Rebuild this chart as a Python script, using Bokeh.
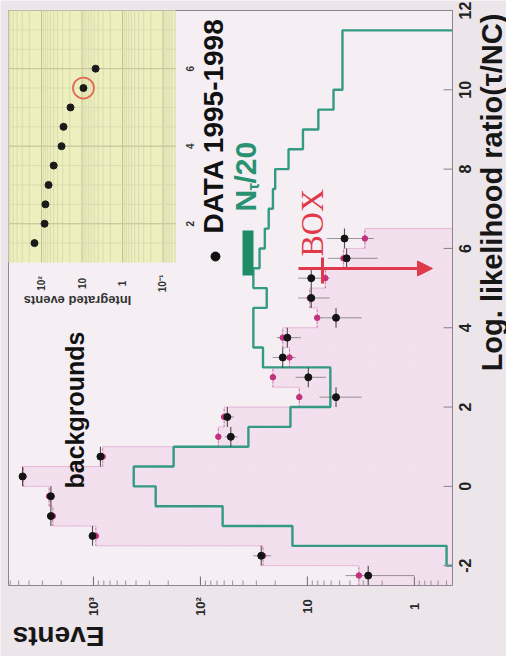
import numpy as np
from math import pi, log10
from bokeh.plotting import figure
from bokeh.models import Range1d, LogScale, Label, Arrow, NormalHead
from bokeh.core.properties import value
from bokeh.embed import file_html
from bokeh.resources import INLINE

# ---------------- data ----------------
bin_centers = [-2.25, -1.75, -1.25, -0.75, -0.25, 0.25, 0.75, 1.25, 1.75,
               2.25, 2.75, 3.25, 3.75, 4.25, 4.75, 5.25, 5.75, 6.25]
data_events = [2.7, 27, 1020, 2500, 2500, 4600, 860, 52, 56,
               5.4, 9.8, 17, 15.4, 5.4, 9.2, 9.2, 4.3, 4.5]
data_err = [1.7, 5.2, 32, 50, 50, 68, 29, 7.2, 7.5,
            2.3, 3.1, 4.1, 3.9, 2.3, 3.0, 3.0, 2.1, 2.1]
bkg_events = [3.3, 26, 950, 2400, 2600, 4500, 820, 68, 60,
              11.9, 21, 14.7, 17, 8.1, 9.5, 6.8, 4.6, 2.9]

ntau_bin_low = [-2.0, -1.5, -1.0, -0.5, 0.0, 0.5, 1.0, 1.5, 2.0, 2.5, 3.0, 3.5, 4.0, 4.5,
                5.0, 5.5, 6.0, 6.5, 7.0, 7.5, 8.0, 8.5, 9.0, 9.5, 10.0, 10.5, 11.0]
ntau_over_20 = [0.5, 13.8, 62, 262, 420, 178, 35.6, 14.4, 6.1, 6.1, 26, 32, 32, 24,
                32, 28, 25, 23, 21, 20, 15, 11, 7.9, 5.7, 4.7, 4.7, 4.7]

inset_cut = [1.5, 2.0, 2.5, 3.0, 3.5, 4.0, 4.5, 5.0, 5.5, 6.0]
inset_integrated = [149, 84, 80, 67, 50, 32, 28.6, 19.2, 9.2, 4.6]
inset_circled_index = 8

ratio_ticks = [-2, 0, 2, 4, 6, 8, 10, 12]
ratio_tick_labels = ["-2", "0", "2", "4", "6", "8", "10", "12"]
event_ticks = [1, 10, 100, 1000]
event_tick_labels = ["1", "10", "10\u00b2", "10\u00b3"]
inset_event_ticks = [100, 10, 1, 0.1]
inset_event_labels = ["10\u00b2", "10", "1", "10\u207b\u00b9"]
inset_cut_ticks = [2, 4, 6]

x_title = "Log. likelihood ratio(\u03c4/NC)"
y_title = "Events"

# ---------------- layout ----------------
W, H = 506, 656
FL, FR, FT, FB = 8, 452, 10, 585          # drawn plot box (px)
EVENTS_RANGE = (6225.0, 0.44)             # at box left -> box right (log, reversed)
RATIO_RANGE = (-2.5, 12.0)                # at box bottom -> box top
IL, IR, IT, IB = 8, 175, 10, 262          # inset box (px)
INSET_E = (653.0, 0.049)                  # inset log axis, left -> right
INSET_V = (1.0, 7.5)                      # inset cut axis, bottom -> top
BIN_W = 0.5
BASE = EVENTS_RANGE[1]
MAJOR_TICK, MINOR_TICK = 9, 5
FONT = "Liberation Sans"
TEAL = "#349a84"
RED = "#e0394b"


def lerp_log(a, b, f):
    return 10 ** (log10(a) + f * (log10(b) - log10(a)))


def ev(px):
    return lerp_log(EVENTS_RANGE[0], EVENTS_RANGE[1], (px - FL) / (FR - FL))


def rt(py):
    return RATIO_RANGE[0] + (FB - py) / (FB - FT) * (RATIO_RANGE[1] - RATIO_RANGE[0])


def iev(px):
    return lerp_log(INSET_E[0], INSET_E[1], (px - IL) / (IR - IL))


def ivt(py):
    return INSET_V[0] + (IB - py) / (IB - IT) * (INSET_V[1] - INSET_V[0])


def step_path(lo, vals, width, base):
    lo = np.asarray(lo, float)
    vals = np.asarray(vals, float)
    hi = lo + width
    xs = np.concatenate([[base], np.repeat(vals, 2), [base]])
    ys = np.concatenate([[lo[0]], np.column_stack([lo, hi]).ravel(), [hi[-1]]])
    return xs, ys


# the frame fills the page; the plot box, its ticks and titles are drawn in data space
p = figure(width=W, height=H, x_axis_type="log", x_axis_location=None, y_axis_location=None,
           x_range=Range1d(ev(0), ev(W)), y_range=Range1d(rt(H), rt(0)),
           output_backend="svg", toolbar_location=None, min_border=0,
           background_fill_color="#ece5ea", border_fill_color="#ece5ea")
p.grid.visible = False
p.outline_line_color = None
p.extra_x_ranges = {"ix": Range1d(iev(0), iev(W))}
p.extra_x_scales = {"ix": LogScale()}
p.extra_y_ranges = {"iy": Range1d(ivt(H), ivt(0))}

# plot box
p.quad(left=EVENTS_RANGE[0], right=EVENTS_RANGE[1], bottom=RATIO_RANGE[0], top=RATIO_RANGE[1],
       fill_color="#f5eff4", line_color=None)

# ---------------- backgrounds (hatched) ----------------
centers = np.array(bin_centers)
bkg = np.array(bkg_events)
p.hbar(y=centers, height=BIN_W, left=bkg, right=BASE,
       fill_color="#f2d8ea", fill_alpha=0.45, hatch_pattern="/",
       hatch_color="#e6b0d3", hatch_alpha=0.35, hatch_scale=5, hatch_weight=0.7,
       line_color=None)
bx, by = step_path(centers - BIN_W / 2, bkg, BIN_W, BASE)
p.line(bx, by, line_color="#e2a2cf", line_width=1, line_alpha=0.7)

# ---------------- N_tau / 20 ----------------
nx, ny = step_path(ntau_bin_low, ntau_over_20, BIN_W, BASE)
p.line(nx, ny, line_color=TEAL, line_width=2.4)

# ---------------- data points ----------------
d = np.array(data_events)
de = np.array(data_err)
p.segment(x0=bkg, x1=bkg, y0=centers - BIN_W / 2, y1=centers + BIN_W / 2,
          line_color="#c8408a", line_dash="2 2", line_width=1, line_alpha=0.6)
p.segment(x0=d - de, x1=d + de, y0=centers, y1=centers,
          line_color="#5a5a5a", line_width=1, line_alpha=0.6)
p.segment(x0=d, x1=d, y0=centers - BIN_W / 2, y1=centers + BIN_W / 2,
          line_color="#333333", line_width=1.1, line_alpha=0.85)
p.scatter(bkg, centers, size=5.5, color="#c2317c")
p.scatter(d, centers, size=7, color="#141414")

# ---------------- box outline, ticks and tick labels ----------------
p.quad(left=EVENTS_RANGE[0], right=EVENTS_RANGE[1], bottom=RATIO_RANGE[0], top=RATIO_RANGE[1],
       fill_color=None, line_color="#8f8590", line_width=1)
minor_event_ticks = [k * 10 ** dd for dd in range(-1, 4) for k in range(2, 10)
                     if EVENTS_RANGE[1] < k * 10 ** dd < EVENTS_RANGE[0]]
p.segment(x0=event_ticks, x1=event_ticks, y0=RATIO_RANGE[0], y1=rt(FB - MAJOR_TICK),
          line_color="#6f6670", line_width=1)
p.segment(x0=minor_event_ticks, x1=minor_event_ticks, y0=RATIO_RANGE[0], y1=rt(FB - MINOR_TICK),
          line_color="#9a909a", line_width=1)
p.segment(x0=EVENTS_RANGE[1], x1=ev(FR - MAJOR_TICK), y0=ratio_ticks, y1=ratio_ticks,
          line_color="#8a808a", line_width=1)
p.text(x=event_ticks, y=rt(606), text=event_tick_labels, angle=pi / 2,
       text_align="center", text_baseline="middle", text_font=value(FONT),
       text_font_size="13px", text_font_style="bold", text_color="#2a2a2a")
p.text(x=ev(464), y=ratio_ticks, text=ratio_tick_labels, angle=pi / 2,
       text_align="center", text_baseline="middle", text_font=value(FONT),
       text_font_size="16px", text_font_style="bold", text_color="#222222")

# ---------------- inset ----------------
IX = dict(x_range_name="ix", y_range_name="iy")
p.quad(left=INSET_E[0], right=INSET_E[1], bottom=INSET_V[0], top=INSET_V[1],
       fill_color="#edefbf", line_color=None, **IX)
grid_minor = [k * 10 ** dd for dd in range(-2, 3) for k in range(2, 10)
              if INSET_E[1] < k * 10 ** dd < INSET_E[0]]
grid_major = [10 ** dd for dd in range(-1, 3)]
p.segment(x0=grid_minor, x1=grid_minor, y0=INSET_V[0], y1=INSET_V[1],
          line_color="#d6d6aa", line_width=0.8, **IX)
p.segment(x0=grid_major, x1=grid_major, y0=INSET_V[0], y1=INSET_V[1],
          line_color="#c2c296", line_width=1, **IX)
hgrid = list(np.arange(INSET_V[0] + 0.5, INSET_V[1], 0.5))
p.segment(x0=INSET_E[0], x1=INSET_E[1], y0=hgrid, y1=hgrid,
          line_color="#d8d8ad", line_width=0.8, **IX)
p.segment(x0=INSET_E[0], x1=INSET_E[1], y0=inset_cut_ticks, y1=inset_cut_ticks,
          line_color="#c4c49a", line_width=1, **IX)
p.scatter(inset_integrated, inset_cut, size=7, color="#1a1a1a", **IX)
p.scatter([inset_integrated[inset_circled_index]], [inset_cut[inset_circled_index]],
          size=21, fill_alpha=0, line_color="#e26a50", line_width=1.8, **IX)
p.text(x=inset_event_ticks, y=ivt(283), text=inset_event_labels, angle=pi / 2,
       text_align="center", text_baseline="middle", text_font=value(FONT),
       text_font_size="10px", text_font_style="bold", text_color="#333333", **IX)
p.text(x=iev(189), y=inset_cut_ticks, text=[str(t) for t in inset_cut_ticks], angle=pi / 2,
       text_align="center", text_baseline="middle", text_font=value(FONT),
       text_font_size="10px", text_font_style="bold", text_color="#333333", **IX)
p.add_layout(Label(x=iev(77), y=ivt(300), text="Integrated events", angle=pi,
                   text_align="center", text_baseline="middle", text_font=FONT,
                   text_font_size="13px", text_font_style="bold", text_color="#333333", **IX))


# ---------------- annotations and titles ----------------
def lbl(text, px, py, size, color="#111111", align="left", angle=pi / 2, font=FONT, style="bold"):
    p.add_layout(Label(x=ev(px), y=rt(py), text=text, angle=angle, text_align=align,
                       text_baseline="middle", text_font=font, text_font_size=size,
                       text_font_style=style, text_color=color))


lbl("DATA 1995-1998", 213, 233, "28px")
p.scatter([ev(215)], [rt(256)], size=9, color="#111111")
lbl("N", 245, 211, "30px", color="#2a9272")
lbl("\u03c4", 253, 190, "17px", color="#2a9272")
lbl("/20", 245, 183, "30px", color="#2a9272")
p.quad(left=ev(242), right=ev(253), bottom=rt(275), top=rt(230),
       fill_color="#1f8d66", line_color=None)
lbl("backgrounds", 74, 488, "25px")
lbl("BOX", 311, 256, "32px", color=RED, font="Liberation Serif", style="normal")
p.add_layout(Arrow(x_start=ev(298), x_end=ev(432), y_start=rt(268), y_end=rt(268),
                   line_color=RED, line_width=3,
                   end=NormalHead(size=15, fill_color=RED, line_color=RED)))
p.segment(x0=ev(322), x1=ev(322), y0=rt(283), y1=rt(257), line_color=RED, line_width=3)
lbl(y_title, 58, 636, "28px", align="center", angle=pi, color="#161616")
lbl(x_title, 491, 192, "29px", align="center", color="#161616")

open("out.html", "w").write(file_html(p, INLINE))
